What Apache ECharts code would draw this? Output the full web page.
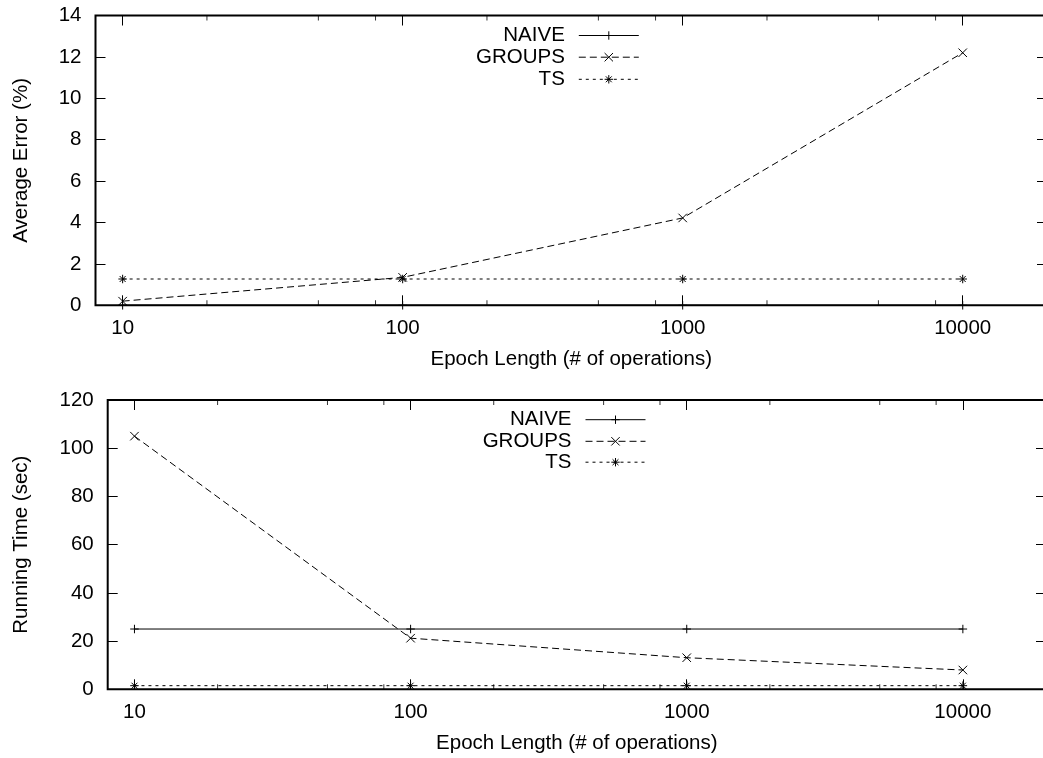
<!DOCTYPE html>
<html>
<head>
<meta charset="utf-8">
<script src="https://cdn.jsdelivr.net/npm/echarts@6/dist/echarts.min.js"></script>
<style>
  html, body { margin: 0; padding: 0; background: #fff; }
  #chart { width: 1043px; height: 758px; }
</style>
</head>
<body>
<div id="chart"></div>
<script>
// Epoch lengths (x, log scale) and the extra short ticks between decades
const epochLengths = [10, 100, 1000, 10000];
const minorTickValues = [20, 50, 80, 200, 500, 800, 2000, 5000, 8000];

// Average error (%)
const errNaive  = [0, 0, 0, 0];
const errGroups = [0.2, 1.35, 4.22, 12.2];
const errTs     = [1.27, 1.27, 1.27, 1.27];

// Running time (sec)
const timeNaive  = [25, 25, 25, 25];
const timeGroups = [105, 21.2, 13.1, 8];
const timeTs     = [1.5, 1.5, 1.5, 1.5];

const seriesNames = ['NAIVE', 'GROUPS', 'TS'];
const xTitle = 'Epoch Length (# of operations)';
const yTitles = ['Average Error (%)', 'Running Time (sec)'];

const FONT = "'Liberation Sans', Arial, Helvetica, sans-serif";
const X_MIN = 8, X_MAX = 20000;

// gnuplot-like point types: plus, cross, star
const SYMBOLS = {
  NAIVE:  'path://M0,5L10,5M5,0L5,10',
  GROUPS: 'path://M0,0L10,10M10,0L0,10',
  TS:     'path://M0,5L10,5M5,0L5,10M1.5,1.5L8.5,8.5M8.5,1.5L1.5,8.5'
};
const DASHES = { NAIVE: 'solid', GROUPS: [7, 4], TS: [3, 4] };

const textBase = { fontFamily: FONT, fontSize: 20.5, color: '#000' };

const panels = [
  { grid: { left: 95.5, top: 15.5, width: 951.5, height: 289.8 },
    yMax: 14, yStep: 2, yTitle: yTitles[0], yNameGap: 64,
    values: [errNaive, errGroups, errTs],
    legendRight: 403.7, legendTops: [25, 46.7, 68.8] },
  { grid: { left: 107.7, top: 400, width: 938.3, height: 289.3 },
    yMax: 120, yStep: 20, yTitle: yTitles[1], yNameGap: 76,
    values: [timeNaive, timeGroups, timeTs],
    legendRight: 397, legendTops: [409.2, 430.8, 451.7] }
];

const grid = [], xAxis = [], yAxis = [], series = [], legend = [];

panels.forEach((p, g) => {
  grid.push(Object.assign({ show: true, borderColor: '#000', borderWidth: 2,
    backgroundColor: 'transparent', outerBoundsMode: 'none' }, p.grid));

  const tick = { show: true, inside: true, length: 10, lineStyle: { color: '#000', width: 1 } };
  ['bottom', 'top'].forEach((pos) => {
    xAxis.push({
      type: 'log', logBase: 10, gridIndex: g, min: X_MIN, max: X_MAX, position: pos,
      axisLine: { show: false, onZero: false },
      axisTick: tick,
      splitLine: { show: false },
      minorTick: { show: false },
      axisLabel: pos === 'bottom'
        ? Object.assign({ show: true, margin: 12.5, showMinLabel: false, showMaxLabel: false,
            formatter: (v) => String(v) }, textBase)
        : { show: false },
      name: pos === 'bottom' ? xTitle : '',
      nameLocation: 'middle', nameGap: 44,
      nameTextStyle: textBase
    });
  });
  ['left', 'right'].forEach((pos) => {
    yAxis.push({
      type: 'value', gridIndex: g, min: 0, max: p.yMax, interval: p.yStep, position: pos,
      axisLine: { show: false, onZero: false },
      axisTick: tick,
      splitLine: { show: false },
      axisLabel: pos === 'left'
        ? Object.assign({ show: true, margin: 14 }, textBase)
        : { show: false },
      name: pos === 'left' ? p.yTitle : '',
      nameLocation: 'middle', nameGap: p.yNameGap, nameRotate: 90,
      nameTextStyle: textBase
    });
  });

  seriesNames.forEach((name, i) => {
    series.push({
      type: 'line', name, xAxisIndex: 2 * g, yAxisIndex: 2 * g,
      data: epochLengths.map((x, k) => [x, p.values[i][k]]),
      symbol: SYMBOLS[name], symbolSize: 8.5, showSymbol: true,
      lineStyle: { color: '#000', width: 1, type: DASHES[name] },
      itemStyle: { color: '#000', borderColor: '#000', borderWidth: 1 },
      emphasis: { disabled: true },
      clip: false, z: 3, animation: false
    });
    legend.push({
      data: [name], orient: 'horizontal', align: 'right',
      right: p.legendRight, top: p.legendTops[i],
      itemWidth: 60, itemHeight: 10.5, itemGap: 0, padding: 0,
      selectedMode: false,
      itemStyle: { borderWidth: 1 },
      lineStyle: { width: 1 },
      textStyle: Object.assign({ padding: [0, 9, 0, 0], lineHeight: 20 }, textBase)
    });
  });

  // short ticks between the decades, on bottom and top edges
  const minorData = minorTickValues.map((v) => ({ value: [v, 0], symbolOffset: [0, -2.5] }))
    .concat(minorTickValues.map((v) => ({ value: [v, p.yMax], symbolOffset: [0, 2.5] })));
  series.push({
    type: 'scatter', name: 'minor', xAxisIndex: 2 * g, yAxisIndex: 2 * g,
    data: minorData, symbol: 'rect', symbolSize: [1, 5],
    itemStyle: { color: '#000' }, silent: true, clip: false, z: 2,
    emphasis: { disabled: true }, animation: false
  });
});

const chart = echarts.init(document.getElementById('chart'), null, { renderer: 'canvas' });
chart.setOption({
  animation: false,
  backgroundColor: '#fff',
  textStyle: { fontFamily: FONT },
  grid, xAxis, yAxis, series, legend,
  tooltip: { show: false }
});
</script>
</body>
</html>
